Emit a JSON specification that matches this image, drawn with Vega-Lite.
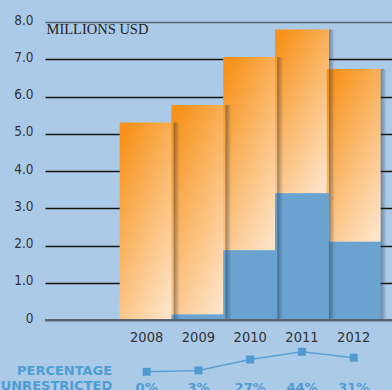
{
  "$schema": "https://vega.github.io/schema/vega-lite/v6.json",
  "width": 347,
  "height": 390,
  "autosize": {"type": "none"},
  "padding": {"left": 45, "top": 0, "right": 0, "bottom": 0},
  "background": "#abcae8",
  "config": {"view": {"stroke": null}},
  "data": {
    "values": [
      {"year": 2008, "total": 5.3, "unrestricted": 0.0, "pct": 0, "label": "0%"},
      {"year": 2009, "total": 5.77, "unrestricted": 0.15, "pct": 3, "label": "3%"},
      {"year": 2010, "total": 7.06, "unrestricted": 1.87, "pct": 27, "label": "27%"},
      {"year": 2011, "total": 7.8, "unrestricted": 3.4, "pct": 44, "label": "44%"},
      {"year": 2012, "total": 6.74, "unrestricted": 2.1, "pct": 31, "label": "31%"}
    ]
  },
  "encoding": {
    "x": {
      "field": "year",
      "type": "quantitative",
      "scale": {"domain": [2006.133, 2012.643], "nice": false, "zero": false},
      "axis": null
    }
  },
  "layer": [
    {
      "layer": [
        {
          "mark": {
            "type": "bar",
            "width": 54,
            "color": {
              "gradient": "linear",
              "x1": 0.2, "y1": 0, "x2": 0.8, "y2": 1,
              "stops": [
                {"offset": 0, "color": "#f7931c"},
                {"offset": 1, "color": "#fee3c6"}
              ]
            }
          },
          "encoding": {
            "y": {
              "field": "total",
              "type": "quantitative",
              "scale": {"domain": [-1.879, 8.591], "nice": false, "zero": false},
              "axis": {
                "values": [0, 1, 2, 3, 4, 5, 6, 7, 8],
                "labelExpr": "datum.value == 0 ? '0' : format(datum.value, '.1f')",
                "domain": false,
                "ticks": false,
                "labelPadding": 12,
                "labelOffset": -2,
                "labelFont": "Liberation Sans Narrow, DejaVu Sans Condensed, Roboto",
                "labelFontSize": 13.5,
                "labelColor": "#333333",
                "grid": true,
                "gridColor": {"condition": {"test": "datum.value == 0 || datum.value == 8", "value": "#5a646e"}, "value": "#151515"},
                "gridWidth": {"condition": {"test": "datum.value == 0", "value": 2}, "value": 1.5},
                "title": "MILLIONS USD",
                "titleAngle": 0,
                "titleAlign": "left",
                "titleBaseline": "alphabetic",
                "titleX": 1,
                "titleY": 33,
                "titleFont": "Liberation Serif",
                "titleFontWeight": "normal",
                "titleFontSize": 14.5,
                "titleColor": "#222222"
              }
            },
            "y2": {"field": "unrestricted"}
          }
        },
        {
          "mark": {"type": "bar", "width": 54, "color": "#6ba3d0"},
          "encoding": {
            "y": {"field": "unrestricted", "type": "quantitative"},
            "y2": {"datum": 0}
          }
        },
        {
          "mark": {
            "type": "bar",
            "width": 6,
            "xOffset": 30,
            "color": {
              "gradient": "linear",
              "x1": 0, "y1": 0, "x2": 1, "y2": 0,
              "stops": [
                {"offset": 0, "color": "rgba(30,45,70,0.45)"},
                {"offset": 1, "color": "rgba(30,45,70,0)"}
              ]
            }
          },
          "encoding": {
            "y": {"field": "total", "type": "quantitative"},
            "y2": {"datum": 0}
          }
        },
        {
          "mark": {"type": "rule", "color": "#5a646e", "strokeWidth": 2},
          "encoding": {
            "x": {"value": 0},
            "x2": {"value": 347},
            "y": {"datum": 0, "type": "quantitative"}
          }
        },
        {
          "mark": {
            "type": "text",
            "font": "Liberation Sans Narrow, DejaVu Sans Condensed, Roboto",
            "fontSize": 14.5,
            "color": "#333333",
            "baseline": "alphabetic",
            "align": "center"
          },
          "encoding": {
            "y": {"datum": -0.59, "type": "quantitative"},
            "text": {"field": "year", "type": "nominal"}
          }
        }
      ]
    },
    {
      "layer": [
        {
          "mark": {"type": "line", "color": "#5a9fd2", "strokeWidth": 1.5},
          "encoding": {
            "y": {
              "field": "pct",
              "type": "quantitative",
              "scale": {"domain": [-40, 818], "nice": false, "zero": false},
              "axis": null
            }
          }
        },
        {
          "mark": {"type": "square", "filled": true, "size": 64, "color": "#4f9bd0", "opacity": 1},
          "encoding": {
            "y": {"field": "pct", "type": "quantitative"}
          }
        },
        {
          "mark": {
            "type": "text",
            "font": "DejaVu Sans",
            "fontWeight": "bold",
            "fontSize": 13,
            "color": "#4e9dd2",
            "baseline": "top",
            "align": "center"
          },
          "encoding": {
            "y": {"datum": -22.4, "type": "quantitative"},
            "text": {"field": "label", "type": "nominal"}
          }
        },
        {
          "data": {"values": [{"x": 2007.334, "t": "PERCENTAGE UNRESTRICTED"}]},
          "mark": {
            "type": "text",
            "font": "DejaVu Sans",
            "fontWeight": "bold",
            "fontSize": 13,
            "color": "#4e9dd2",
            "align": "right",
            "baseline": "alphabetic",
            "lineHeight": 15,
            "text": ["PERCENTAGE", "UNRESTRICTED"]
          },
          "encoding": {
            "x": {"field": "x", "type": "quantitative"},
            "y": {"datum": -7, "type": "quantitative"}
          }
        }
      ]
    }
  ],
  "resolve": {"scale": {"y": "independent"}}
}
